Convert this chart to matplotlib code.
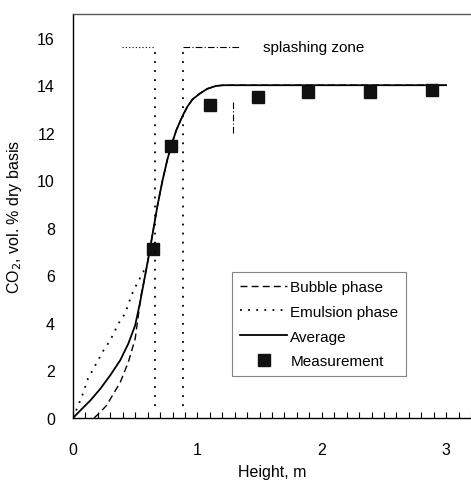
import numpy as np
import matplotlib
matplotlib.use("Agg")
import matplotlib.pyplot as plt
from matplotlib.ticker import MultipleLocator

plt.rcParams.update({
    "font.family": ["Liberation Sans", "DejaVu Sans"],
    "font.size": 11.5,
    "axes.linewidth": 1.0,
})

# measured CO2 points
meas_h = [0.645, 0.79, 1.10, 1.49, 1.89, 2.39, 2.89]
meas_co2 = [7.1, 11.45, 13.15, 13.5, 13.7, 13.7, 13.8]

# model curves
avg_h = [0.0, 0.06, 0.14, 0.22, 0.30, 0.38, 0.445, 0.50, 0.54, 0.575, 0.61,
         0.645, 0.68, 0.72, 0.76, 0.79, 0.83, 0.88, 0.92, 0.96, 1.02, 1.08,
         1.15, 1.21, 3.0]
avg_co2 = [0.0, 0.32, 0.74, 1.23, 1.8, 2.43, 3.13, 3.9, 4.88, 5.86, 6.84,
           7.9, 8.95, 10.0, 10.9, 11.45, 12.1, 12.7, 13.1, 13.4, 13.65, 13.85,
           13.97, 14.0, 14.0]
bub_h = [0.17, 0.22, 0.27, 0.38, 0.445, 0.50, 0.525, 0.545, 0.575, 0.61,
         0.645, 0.68, 0.72, 0.76, 0.79, 0.83, 0.88, 0.92, 0.96, 1.02, 1.08,
         1.15, 1.21, 3.0]
bub_co2 = [0.0, 0.25, 0.53, 1.5, 2.35, 3.33, 4.3, 5.1, 5.86, 6.84,
           7.9, 8.95, 10.0, 10.9, 11.45, 12.1, 12.7, 13.1, 13.4, 13.65, 13.85,
           13.97, 14.0, 14.0]
emu_h = [0.0, 0.07, 0.12, 0.245, 0.30, 0.365, 0.42, 0.47, 0.51, 0.55, 0.59]
emu_co2 = [0.0, 0.88, 1.65, 2.84, 3.27, 3.97, 4.4, 5.17, 5.6, 6.0, 6.4]

# splashing zone markers
zone_lo, zone_hi = 0.66, 0.885
zone_y = 15.6

fig = plt.figure(figsize=(4.71, 4.81), dpi=100)
ax = fig.add_axes([0.155, 0.129, 0.845, 0.84])

ax.plot(bub_h, bub_co2, color="black", ls=(0, (5, 3)), lw=1.0, label="Bubble phase")
ax.plot(emu_h, emu_co2, color="black", ls=(0, (1, 3.5)), lw=1.3, label="Emulsion phase")
ax.plot(avg_h, avg_co2, color="black", ls="-", lw=1.3, label="Average")
ax.plot(meas_h, meas_co2, ls="none", marker="s", ms=8, color="#111111",
        label="Measurement")

ax.plot([zone_lo, zone_lo], [0.5, zone_y], color="black", ls=(0, (1, 4)), lw=1.3)
ax.plot([zone_hi, zone_hi], [0.5, zone_y], color="black", ls=(0, (1, 4)), lw=1.3)
ax.plot([0.39, zone_lo], [zone_y, zone_y], color="black", ls=(0, (1, 2)), lw=0.8)
ax.plot([zone_hi, 1.34], [zone_y, zone_y], color="black", ls=(0, (6, 2, 1, 2)), lw=0.8)
ax.plot([1.29, 1.29], [12.0, 13.3], color="black", ls=(0, (6, 2, 1, 2)), lw=0.8)
ax.text(1.53, zone_y, "splashing zone", ha="left", va="center", fontsize=11)

ax.set_xlim(0, 3.2)
ax.set_ylim(0, 17)
ax.xaxis.set_major_locator(MultipleLocator(1))
ax.xaxis.set_minor_locator(MultipleLocator(0.1))
ax.yaxis.set_major_locator(MultipleLocator(2))
ax.tick_params(axis="x", which="both", direction="in", length=4, width=0.8, pad=17)
ax.tick_params(axis="y", which="both", length=0, pad=13)
ax.spines["right"].set_visible(False)
ax.spines["top"].set_color("0.35")

ax.set_xlabel("Height, m", labelpad=5)
ax.set_ylabel("CO$_2$, vol. % dry basis", labelpad=8)
ax.yaxis.set_label_coords(-0.123, 0.5)

leg = ax.legend(loc="upper left", bbox_to_anchor=(0.40, 0.36), fontsize=11,
                handlelength=3.1, handletextpad=0.2, labelspacing=0.7,
                borderpad=0.5, frameon=True, fancybox=False, borderaxespad=0)
leg.get_frame().set_edgecolor("0.4")
leg.get_frame().set_linewidth(0.8)

fig.savefig("out.png", dpi=100)
